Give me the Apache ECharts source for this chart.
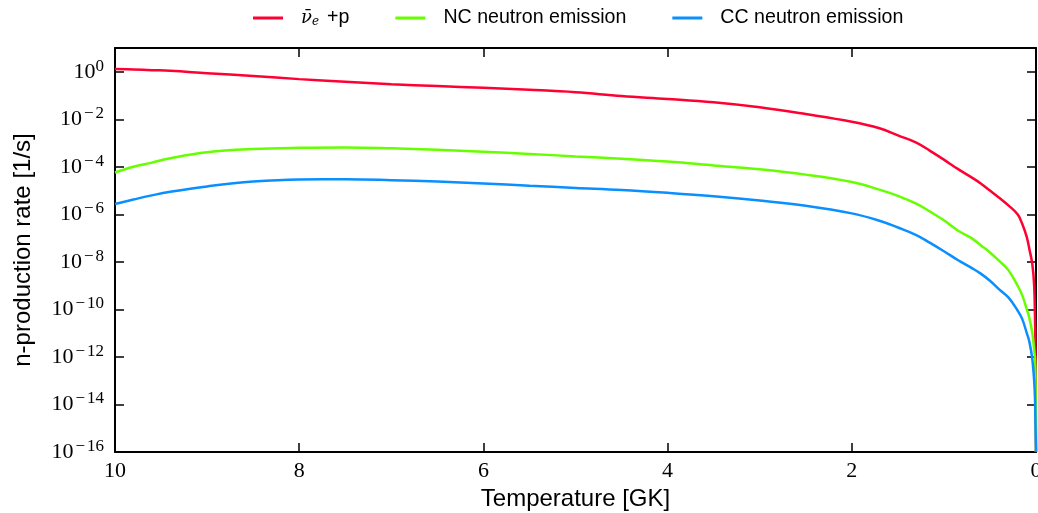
<!DOCTYPE html>
<html>
<head>
<meta charset="utf-8">
<script src="https://cdn.jsdelivr.net/npm/echarts@6/dist/echarts.min.js"></script>
<style>
  html, body { margin: 0; padding: 0; background: #fff; }
  #chart { width: 1038px; height: 513px; }
</style>
</head>
<body>
<div id="chart"></div>
<script>
// temperature in GK (x axis runs from 10 down to 0)
const temperature = [10, 9.8, 9.6, 9.4, 9.0, 8.5, 8.0, 7.5, 7.0, 6.5, 6.0, 5.5, 5.0, 4.5, 4.0, 3.5, 3.0, 2.5, 2.0, 1.7, 1.5, 1.3, 1.15, 1.0, 0.85, 0.7, 0.6, 0.5, 0.4, 0.3, 0.2, 0.15, 0.1, 0.07, 0.04, 0.02, 0.01, 0.005, 0];

// n-production rate [1/s]
const nubarP = [1.3, 1.25, 1.17, 1.1, 0.87, 0.66, 0.49, 0.38, 0.30, 0.25, 0.21, 0.174, 0.138, 0.095, 0.072, 0.052, 0.032, 0.0166, 0.0079, 0.0042, 0.0021, 0.00105, 4.7e-4, 2.0e-4, 8.2e-5, 3.6e-5, 2.0e-5, 1.0e-5, 5.0e-6, 2.4e-6, 1.0e-6, 4.0e-7, 1.1e-7, 3.2e-8, 8e-9, 1e-9, 3e-11, 1e-12, 1e-16];
const ncEmission = [5.8e-5, 1.0e-4, 1.5e-4, 2.3e-4, 4.1e-4, 5.6e-4, 6.3e-4, 6.5e-4, 6.0e-4, 5.2e-4, 4.3e-4, 3.5e-4, 2.75e-4, 2.2e-4, 1.66e-4, 1.15e-4, 7.9e-5, 4.7e-5, 2.3e-5, 1.1e-5, 6.0e-6, 2.8e-6, 1.3e-6, 5.6e-7, 2.1e-7, 1.0e-7, 5.0e-8, 2.5e-8, 1.1e-8, 4.5e-9, 1.0e-9, 4.0e-10, 1.0e-10, 4.0e-11, 1.0e-11, 2.0e-12, 8e-13, 1e-13, 1e-16];
const ccEmission = [2.75e-6, 4.2e-6, 6.3e-6, 8.9e-6, 1.5e-5, 2.4e-5, 2.95e-5, 3.0e-5, 2.75e-5, 2.4e-5, 2.0e-5, 1.6e-5, 1.3e-5, 1.07e-5, 8.1e-6, 5.8e-6, 3.8e-6, 2.3e-6, 1.1e-6, 5.4e-7, 2.8e-7, 1.35e-7, 6.3e-8, 2.8e-8, 1.2e-8, 5.6e-9, 3.2e-9, 1.6e-9, 7e-10, 3.2e-10, 9e-11, 4e-11, 1e-11, 4e-12, 8e-13, 1e-13, 1.3e-14, 1e-15, 1e-16];

const seriesNames = ['nubar', 'NC neutron emission', 'CC neutron emission'];
const seriesColors = ['#ff0033', '#66ff00', '#0a8fff'];

const pairs = (ys) => temperature.map((t, i) => [t, ys[i]]);

const chart = echarts.init(document.getElementById('chart'), null, { renderer: 'canvas' });

const frame = { show: true, onZero: false, lineStyle: { color: '#000', width: 2 } };
const ticks = { show: true, inside: true, length: 9, lineStyle: { color: '#000', width: 1.5 } };
const serif = '"Liberation Serif", "DejaVu Serif", serif';
const sans = '"Liberation Sans", Arial, sans-serif';

// 10^n labels, only every second decade
const logLabel = (v) => {
  const e = Math.round(Math.log10(v));
  if (e > 0 || e % 2 !== 0) return '';
  return '{b|10}' + (e < 0 ? '{m|\u2212}' : '') + '{s|' + Math.abs(e) + '}';
};

chart.setOption({
  animation: false,
  backgroundColor: '#fff',
  legend: {
    top: 3,
    left: 248,
    icon: 'rect',
    itemWidth: 30,
    itemHeight: 3,
    itemGap: 46,
    data: seriesNames,
    formatter: (name) => name === 'nubar' ? '{nu|\u03bd\u0304}{e|e}{p|+p}' : name,
    textStyle: {
      fontFamily: sans,
      fontSize: 19.6,
      color: '#000',
      padding: [0, 0, 0, 13],
      rich: {
        nu: { fontFamily: '"DejaVu Serif", serif', fontStyle: 'italic', fontSize: 18, color: '#000' },
        e: { fontFamily: '"DejaVu Serif", serif', fontStyle: 'italic', fontSize: 12, color: '#000', verticalAlign: 'bottom', padding: [0, 8, 0, 0] },
        p: { fontFamily: sans, fontSize: 19.6, color: '#000' }
      }
    }
  },
  grid: { left: 115, right: 2, top: 48, bottom: 61, containLabel: false, outerBoundsMode: 'none' },
  xAxis: [
    {
      type: 'value', min: 0, max: 10, interval: 2, inverse: true, position: 'bottom',
      axisLine: frame, axisTick: ticks, splitLine: { show: false },
      axisLabel: { margin: 8, fontFamily: serif, fontSize: 22, color: '#000' },
      name: 'Temperature [GK]', nameLocation: 'middle', nameGap: 31,
      nameTextStyle: { fontFamily: sans, fontSize: 24, color: '#000' }
    },
    {
      type: 'value', min: 0, max: 10, interval: 2, inverse: true, position: 'top',
      axisLine: frame, axisTick: ticks, splitLine: { show: false }, axisLabel: { show: false }
    }
  ],
  yAxis: [
    {
      type: 'log', min: 1e-16, max: 10, logBase: 10, interval: 2, position: 'left',
      axisLine: frame, axisTick: ticks, splitLine: { show: false },
      axisLabel: {
        margin: 11, formatter: logLabel,
        rich: {
          b: { fontFamily: serif, fontSize: 22, color: '#000', lineHeight: 28 },
          m: { fontFamily: serif, fontSize: 17, color: '#000', verticalAlign: 'top', lineHeight: 17, padding: [0, 2, 0, 2] },
          s: { fontFamily: serif, fontSize: 17, color: '#000', verticalAlign: 'top', lineHeight: 17 }
        }
      },
      name: 'n-production rate [1/s]', nameLocation: 'middle', nameGap: 80, nameRotate: 90,
      nameTextStyle: { fontFamily: sans, fontSize: 24, color: '#000' }
    },
    {
      type: 'log', min: 1e-16, max: 10, logBase: 10, interval: 2, position: 'right',
      axisLine: frame, axisTick: ticks, splitLine: { show: false }, axisLabel: { show: false }
    }
  ],
  series: seriesNames.map((name, i) => ({
    name: name,
    type: 'line',
    data: pairs([nubarP, ncEmission, ccEmission][i]),
    showSymbol: false,
    smooth: 0.4,
    clip: true,
    color: seriesColors[i],
    lineStyle: { width: 2.5, color: seriesColors[i] }
  }))
});
</script>
</body>
</html>
